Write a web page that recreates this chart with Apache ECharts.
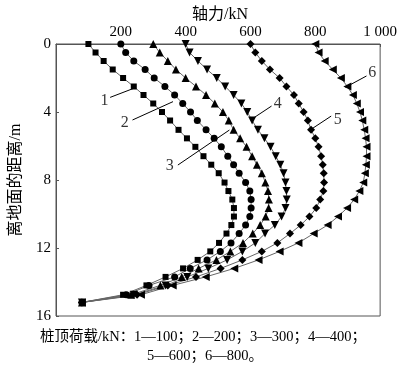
<!DOCTYPE html>
<html><head><meta charset="utf-8">
<script src="https://cdn.jsdelivr.net/npm/echarts@6/dist/echarts.min.js"></script>
<style>html,body{margin:0;padding:0;background:#fff}#c{width:400px;height:369px}</style>
</head><body><div id="c"></div>
<script>
const depths = [0,0.5,1,1.5,2,2.5,3,3.5,4,4.5,5.05,5.55,6.05,6.6,7.1,7.6,8.15,8.65,9.15,9.65,10.15,10.65,11.15,11.7,12.2,12.7,13.2,13.7,14.2,14.75,15.2];
const load1 = [100,122,147,175,207,240,270,300,327,352,378,404,430,455,479,502,520,532,544,549,549,541,526,503,476,437,392,338,279,207,80];
const load2 = [200,215,240,275,303,336,366,391,415,436,463,488,510,530,548,565,585,598,602,602,598,585,565,540,507,466,414,366,287,217,80];
const load3 = [300,320,345,370,400,432,463,490,515,533,548,568,588,605,620,635,646,654,657,656,647,630,607,577,538,495,440,388,322,232,80];
const load4 = [400,412,438,466,496,522,548,572,590,605,623,643,662,678,692,702,708,711,712,708,696,675,645,615,575,528,470,405,338,240,80];
const load5 = [600,615,635,660,690,711,734,749,764,777,787,800,810,818,823,826,827,825,815,803,782,755,722,683,635,575,508,432,345,250,80];
const load6 = [800,810,829,854,879,899,916,928,938,945,951,955,958,958,956,953,948,936,920,898,870,838,795,748,690,625,550,462,360,262,80];
const seriesNames = ['1','2','3','4','5','6'];
const xTicks = [0,200,400,600,800,1000];
const yTicks = [0,4,8,12,16];
// label annotations (data coords): text position, leader start, leader end
const labelText = [[150,3.35],[212,4.65],[351,7.18],[684,3.49],[869,4.43],[976,1.69]];
const leaderFrom = [[167,3.14],[236,4.47],[376,7.12],[665,3.65],[849,4.24],[958,1.88]];
const leaderTo = [[245,2.57],[361,3.39],[535,5.06],[600,4.47],[787,5.02],[893,2.55]];

const FONT = "'Liberation Serif','Times New Roman','Noto Sans CJK SC',serif";
const loads = [load1,load2,load3,load4,load5,load6];
const symbols = [
  {symbol:'rect', size:6, rot:0},
  {symbol:'circle', size:7, rot:0},
  {symbol:'triangle', size:8, rot:0},
  {symbol:'triangle', size:8, rot:180},
  {symbol:'diamond', size:8, rot:0},
  {symbol:'triangle', size:8, rot:90}
];
const series = loads.map((arr,i)=>({
  type:'line', name:seriesNames[i],
  data: arr.map((v,k)=>[v, depths[k]]),
  symbol: symbols[i].symbol, symbolSize: symbols[i].size, symbolRotate: symbols[i].rot,
  itemStyle:{color:'#000'}, lineStyle:{color:'#666', width:1},
  showAllSymbol:true, animation:false, clip:false, z: 3
}));
series.push({
  type:'scatter', data: labelText.map((p,i)=>({value:p, name:seriesNames[i]})),
  symbolSize:0, animation:false,
  label:{show:true, position:'inside', formatter:'{b}', color:'#000', fontFamily:FONT, fontSize:16},
  markLine:{
    silent:true, symbol:['none','none'], animation:false,
    lineStyle:{color:'#000', width:1, type:'solid'}, label:{show:false},
    data: leaderFrom.map((p,i)=>[{coord:p},{coord:leaderTo[i]}])
  }
});
const chart = echarts.init(document.getElementById('c'), null, {renderer:'canvas'});
chart.setOption({
  backgroundColor:'#fff',
  animation:false,
  title:{text:'轴力/kN', left:215, top:2, textAlign:'center',
    textStyle:{fontFamily:FONT, fontSize:16, fontWeight:'normal', color:'#000'}},
  grid:{left:49, right:14, top:44, bottom:53, show:true, borderColor:'#555', borderWidth:1},
  xAxis:{type:'value', position:'top', min:xTicks[0], max:xTicks[xTicks.length-1], interval:200,
    axisLine:{show:true, lineStyle:{color:'#555'}}, axisTick:{show:true, inside:true, length:3, lineStyle:{color:'#555'}},
    splitLine:{show:false},
    axisLabel:{color:'#000', fontFamily:FONT, fontSize:15, margin:4,
      formatter:v=> v===0 ? '' : (v===1000 ? '1 000' : String(v))}},
  yAxis:{type:'value', inverse:true, min:yTicks[0], max:yTicks[yTicks.length-1], interval:4,
    name:'离地面的距离/m', nameLocation:'middle', nameGap:32,
    nameTextStyle:{fontFamily:FONT, fontSize:16, color:'#000'},
    axisLine:{show:true, lineStyle:{color:'#555'}}, axisTick:{show:true, inside:true, length:3, lineStyle:{color:'#555'}},
    splitLine:{show:false},
    axisLabel:{color:'#000', fontFamily:FONT, fontSize:15, margin:5}},
  graphic:[
    {type:'text', x:203, y:330, style:{text:'桩顶荷载/kN：1—100；2—200；3—300；4—400；', textAlign:'center', fontFamily:FONT, fontSize:14.5, fill:'#000'}},
    {type:'text', x:205, y:349, style:{text:'5—600；6—800。', textAlign:'center', fontFamily:FONT, fontSize:14.5, fill:'#000'}}
  ],
  series: series
});
</script></body></html>
